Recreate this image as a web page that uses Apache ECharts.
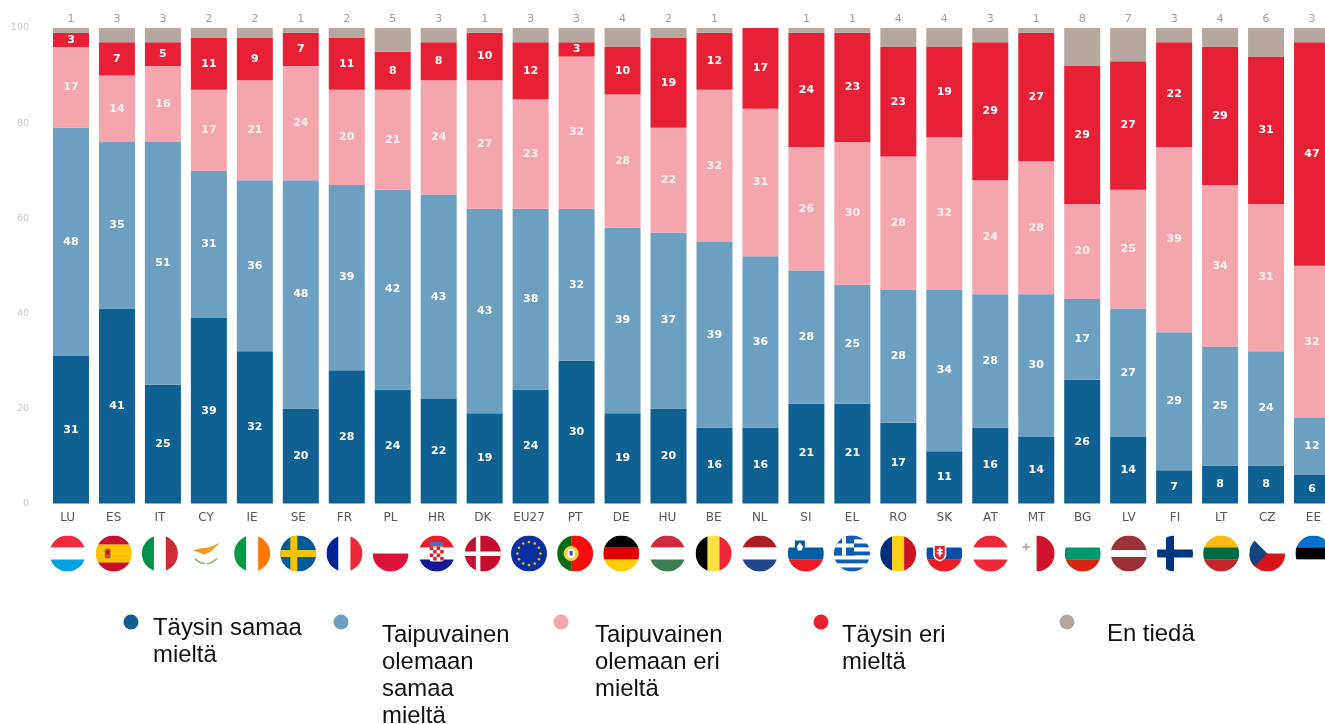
<!DOCTYPE html>
<html>
<head>
<meta charset="utf-8">
<title>Chart</title>
<style>
  html, body { margin: 0; padding: 0; background: #fff; overflow: hidden; }
  #main { width: 1325px; height: 724px; }
</style>
<script src="https://cdn.jsdelivr.net/npm/echarts@6/dist/echarts.min.js"></script>
</head>
<body>
<div id="main"></div>
<script>
const countries = ['LU','ES','IT','CY','IE','SE','FR','PL','HR','DK','EU27','PT','DE','HU','BE','NL','SI','EL','RO','SK','AT','MT','BG','LV','FI','LT','CZ','EE'];
const fullyAgree = [31,41,25,39,32,20,28,24,22,19,24,30,19,20,16,16,21,21,17,11,16,14,26,14,7,8,8,6];
const tendAgree = [48,35,51,31,36,48,39,42,43,43,38,32,39,37,39,36,28,25,28,34,28,30,17,27,29,25,24,12];
const tendDisagree = [17,14,16,17,21,24,20,21,24,27,23,32,28,22,32,31,26,30,28,32,24,28,20,25,39,34,31,32];
const fullyDisagree = [3,7,5,11,9,7,11,8,8,10,12,3,10,19,12,17,24,23,23,19,29,27,29,27,22,29,31,47];
const dontKnow = [1,3,3,2,2,1,2,5,3,1,3,3,4,2,1,null,1,1,4,4,3,1,8,7,3,4,6,3];

const names = ['Täysin samaa mieltä','Taipuvainen olemaan samaa mieltä','Taipuvainen olemaan eri mieltä','Täysin eri mieltä','En tiedä'];
const legendLines = [
  ['Täysin samaa','mieltä'],
  ['Taipuvainen','olemaan','samaa','mieltä'],
  ['Taipuvainen','olemaan eri','mieltä'],
  ['Täysin eri','mieltä'],
  ['En tiedä']
];
const colors = ['#0e6192','#6d9fc0','#f4a5ad','#e62136','#b4a79f'];

// flags, drawn in a 36x36 box and cut to a circle
function hBands(list) {
  const h = 36 / list.length;
  return list.map((c, i) => `<rect x="0" y="${i * h}" width="36" height="${h + 0.2}" fill="${c}"/>`).join('');
}
function vBands(list) {
  const w = 36 / list.length;
  return list.map((c, i) => `<rect x="${i * w}" y="0" width="${w + 0.2}" height="36" fill="${c}"/>`).join('');
}
function euStars() {
  let s = '<rect width="36" height="36" fill="#0b2fa0"/>';
  for (let i = 0; i < 12; i++) {
    const a = i * Math.PI / 6;
    s += `<circle cx="${18 + 11.5 * Math.cos(a)}" cy="${18 + 11.5 * Math.sin(a)}" r="1.3" fill="#e8c400"/>`;
  }
  return s;
}
const flags = {
  LU: hBands(['#ee2b3f','#fff','#00a3e0']),
  ES: hBands(['#c8102e','#fcc200','#fcc200','#c8102e']) + '<rect x="9" y="13" width="6" height="10" rx="2" fill="#b5651d"/><rect x="10.5" y="15" width="3" height="4" fill="#c8102e"/>',
  IT: vBands(['#009246','#fff','#ce2b37']),
  CY: '<path d="M5 15 L12 13 L20 12 L26 10 L32 7 L27 12 L23 16 L16 19 L11 17 Z" fill="#f39a1e"/><path d="M7 23 Q11 28 17 28 M29 23 Q24 28 19 28" stroke="#8fae7d" stroke-width="1.6" fill="none"/>',
  IE: vBands(['#009b48','#fff','#ff7a00']),
  SE: '<rect width="36" height="36" fill="#005b99"/><rect x="10" width="7" height="36" fill="#f5c400"/><rect y="14.5" width="36" height="7" fill="#f5c400"/>',
  FR: vBands(['#002395','#fff','#ed2939']),
  PL: hBands(['#fff','#dc143c']),
  HR: hBands(['#ee1c25','#fff','#171796']) + '<rect x="11" y="11" width="14" height="15" rx="2" fill="#fff"/><path d="M11 11h3.500v3.500H11zM18 11h3.500v3.500H18zM14.500 14.500H18V18h-3.500zM21.500 14.500H25V18h-3.500zM11 18h3.500v3.500H11zM18 18h3.500v3.500H18zM14.500 21.500H18V25h-3.500zM21.500 21.500H25V25h-3.500z" fill="#d8232a"/><rect x="11" y="6.500" width="14" height="4" fill="#4a6fb5"/>',
  DK: '<rect width="36" height="36" fill="#c60c30"/><rect x="11" width="4.500" height="36" fill="#fff"/><rect y="16" width="36" height="4.500" fill="#fff"/>',
  EU27: euStars(),
  PT: '<rect width="14" height="36" fill="#0a6b12"/><rect x="14" width="22" height="36" fill="#f70d0d"/><circle cx="14" cy="18" r="7.500" fill="#f2d34b"/><rect x="10.500" y="13.500" width="7" height="9" rx="2" fill="#fff"/><rect x="12.500" y="15.500" width="3" height="4.500" fill="#2b4fa0"/>',
  DE: hBands(['#000','#dd0000','#ffce00']),
  HU: hBands(['#cd2a3e','#fff','#3f7d57']),
  BE: vBands(['#000','#fae042','#ed2939']),
  NL: hBands(['#ae1c28','#fff','#21468b']),
  SI: hBands(['#fff','#005da4','#ed1c24']) + '<path d="M7 5h10v8q0 5-5 7q-5-2-5-7z" fill="#005da4"/><path d="M9 11l3-4l3 4l-1 4h-4z" fill="#fff"/>',
  EL: hBands(['#0d5eaf','#fff','#0d5eaf','#fff','#0d5eaf','#fff','#0d5eaf','#fff','#0d5eaf']) + '<rect width="20" height="20" fill="#0d5eaf"/><rect x="8" width="4" height="20" fill="#fff"/><rect y="8" width="20" height="4" fill="#fff"/>',
  RO: vBands(['#002b7f','#fcd116','#ce1126']),
  SK: hBands(['#fff','#0b4ea2','#ee1c25']) + '<path d="M7 9h13v10q0 5-6.500 7q-6.500-2-6.500-7z" fill="#fff"/><path d="M8.500 10.500h10v8.500q0 4-5 5.500q-5-1.500-5-5.500z" fill="#ee1c25"/><rect x="12.500" y="12" width="2" height="9" fill="#fff"/><rect x="10.500" y="14" width="6" height="1.600" fill="#fff"/><rect x="10.500" y="17" width="6" height="1.600" fill="#fff"/>',
  AT: hBands(['#ed2939','#fff','#ed2939']),
  MT: vBands(['#fff','#cf142b']) + '<path d="M4 10.500h2.500V8h2v2.500H11v2H8.500V15h-2v-2.500H4z" fill="#c9a9ad"/>',
  BG: hBands(['#fff','#00966e','#d62612']),
  LV: '<rect width="36" height="36" fill="#9e3039"/><rect y="14.500" width="36" height="7" fill="#fff"/>',
  FI: '<rect y="14" width="36" height="8" fill="#003580"/><rect x="9" width="8" height="36" fill="#003580"/>',
  LT: hBands(['#fdb913','#006a44','#c1272d']),
  CZ: '<path d="M0 18H36V36H0Z" fill="#d7141a"/><path d="M0 0L18 18L0 36Z" fill="#11457e"/>',
  EE: hBands(['#0072ce','#000','#fff'])
};
function flagUrl(code) {
  const svg = `<svg xmlns="http://www.w3.org/2000/svg" width="36" height="36" viewBox="0 0 36 36"><defs><clipPath id="c"><circle cx="18" cy="18" r="18"/></clipPath></defs><g clip-path="url(#c)">${flags[code]}</g></svg>`;
  return 'data:image/svg+xml;charset=utf-8,' + encodeURIComponent(svg);
}

const values = [fullyAgree, tendAgree, tendDisagree, fullyDisagree, dontKnow];

const barSeries = names.map((name, i) => ({
  name: name,
  type: 'bar',
  stack: 'total',
  xAxisIndex: 0,
  yAxisIndex: 0,
  barWidth: 36,
  data: values[i],
  itemStyle: { color: colors[i] },
  label: i === 4
    ? { show: true, position: 'top', distance: 3, color: '#a89c94', fontSize: 11, fontFamily: 'DejaVu Sans' }
    : { show: true, position: 'inside', color: i === 2 ? '#fdf1f2' : '#fff', fontSize: 11, fontWeight: 'bold', fontFamily: 'DejaVu Sans' }
}));

const flagSeries = {
  type: 'custom',
  xAxisIndex: 1,
  yAxisIndex: 1,
  silent: true,
  data: countries.map((c, i) => [i, 0]),
  renderItem: function (params, api) {
    const p = api.coord([api.value(0), 0]);
    return {
      type: 'image',
      style: { image: flagUrl(countries[params.dataIndex]), x: p[0] - 18, y: p[1] + 32, width: 36, height: 36 }
    };
  }
};

// marker centre stays at y=622, so the text gets pushed down/right with padding
const legendPos = [
  { left: 123.5, pad: [39, 0, 0, 9.5] },
  { left: 333.5, pad: [107, 0, 0, 28.5] },
  { left: 553.5, pad: [80, 0, 0, 21.5] },
  { left: 813.5, pad: [53, 0, 0, 8.5] },
  { left: 1059.5, pad: [24, 0, 0, 27.5] }
];
const legends = names.map((name, i) => ({
  data: [name],
  left: legendPos[i].left,
  top: 614.5,
  padding: 0,
  icon: 'circle',
  itemWidth: 15,
  itemHeight: 15,
  selectedMode: false,
  formatter: () => legendLines[i].map(s => '{t|' + s + '}').join('\n'),
  textStyle: {
    padding: legendPos[i].pad,
    rich: {
      t: { fontFamily: 'Liberation Sans', fontSize: 23.9, lineHeight: 27, color: '#111' }
    }
  }
}));

const chart = echarts.init(document.getElementById('main'));
chart.setOption({
  animation: false,
  legend: legends,
  grid: [
    { left: 48, top: 28, width: 1287, height: 475.5, outerBoundsMode: 'none' },
    { left: 44.5, top: 28, width: 1292, height: 475.5, outerBoundsMode: 'none' }
  ],
  xAxis: [
    { type: 'category', gridIndex: 0, data: countries, axisLine: { show: false }, axisTick: { show: false }, axisLabel: { show: false } },
    {
      type: 'category', gridIndex: 1, data: countries,
      axisLine: { show: false }, axisTick: { show: false },
      axisLabel: { interval: 0, margin: 8, color: '#555', fontSize: 12, fontFamily: 'DejaVu Sans' }
    }
  ],
  yAxis: [
    {
      type: 'value', gridIndex: 0, min: 0, max: 100, interval: 20,
      splitLine: { show: false }, axisLine: { show: false }, axisTick: { show: false },
      axisLabel: { margin: 19, color: '#cdc5c0', fontSize: 9.5, fontFamily: 'DejaVu Sans' }
    },
    { type: 'value', gridIndex: 1, min: 0, max: 100, show: false }
  ],
  series: barSeries.concat(flagSeries)
});
</script>
</body>
</html>
